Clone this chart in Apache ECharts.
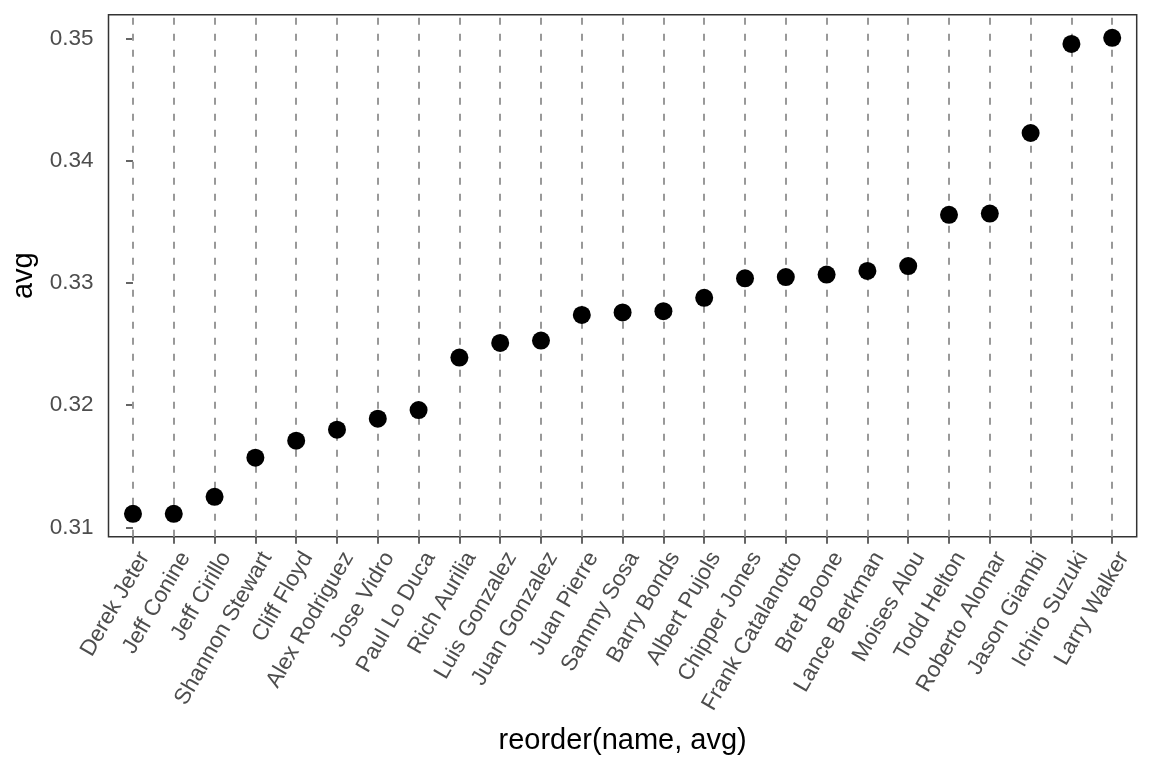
<!DOCTYPE html>
<html>
<head>
<meta charset="utf-8">
<script src="https://cdn.jsdelivr.net/npm/echarts@6/dist/echarts.min.js"></script>
<style>
html,body{margin:0;padding:0;background:#fff;}
#chart{width:1152px;height:768px;}
</style>
</head>
<body>
<div id="chart"></div>
<script>
const names = ["Derek Jeter","Jeff Conine","Jeff Cirillo","Shannon Stewart","Cliff Floyd","Alex Rodriguez","Jose Vidro","Paul Lo Duca","Rich Aurilia","Luis Gonzalez","Juan Gonzalez","Juan Pierre","Sammy Sosa","Barry Bonds","Albert Pujols","Chipper Jones","Frank Catalanotto","Bret Boone","Lance Berkman","Moises Alou","Todd Helton","Roberto Alomar","Jason Giambi","Ichiro Suzuki","Larry Walker"];
const avgValues = [0.3111,0.3111,0.3125,0.3157,0.3171,0.3180,0.3189,0.3196,0.3239,0.3251,0.3253,0.3274,0.3276,0.3277,0.3288,0.3304,0.3305,0.3307,0.3310,0.3314,0.3356,0.3357,0.3423,0.3496,0.3501];
const yTicks = [0.31,0.32,0.33,0.34,0.35];

const idx = names.map((n,i)=>i);
const pts = avgValues.map((v,i)=>[i,v]);
const font = '"Liberation Sans", Arial, sans-serif';
// rotated labels hang from their top-right corner (like hjust=1,vjust=1)
const labelShift = 0.28;
const labelPos = idx.map(i=>i+labelShift);

const chart = echarts.init(document.getElementById('chart'), null, {renderer:'canvas'});
chart.setOption({
  animation:false,
  backgroundColor:'#ffffff',
  grid:{left:108.5,right:15.3,top:14.7,bottom:231.3,show:true,borderColor:'#333333',borderWidth:1.5,backgroundColor:'transparent',outerBoundsMode:'none',containLabel:false},
  xAxis:{
    type:'value',min:-0.6,max:names.length-0.4,
    name:'reorder(name, avg)',nameLocation:'middle',nameGap:190,
    nameTextStyle:{fontFamily:font,fontSize:29,color:'#000000'},
    axisLine:{show:false},
    axisTick:{show:true,length:7,lineStyle:{color:'#333333',width:1.5},customValues:idx},
    axisLabel:{show:true,rotate:60,margin:17,fontFamily:font,fontSize:22.5,color:'#4d4d4d',customValues:labelPos,
      showMinLabel:true,showMaxLabel:true,hideOverlap:false,
      formatter:(v)=>names[Math.round(v-labelShift)]||''},
    splitLine:{show:false}
  },
  yAxis:{
    type:'value',min:0.30923,max:0.35199,
    name:'avg',nameLocation:'middle',nameGap:59,
    nameTextStyle:{fontFamily:font,fontSize:29,color:'#000000'},
    axisLine:{show:false},
    axisTick:{show:true,length:7,lineStyle:{color:'#333333',width:1.5},customValues:yTicks},
    axisLabel:{show:true,margin:15,fontFamily:font,fontSize:22.5,color:'#4d4d4d',customValues:yTicks,
      showMinLabel:true,showMaxLabel:true,
      formatter:(v)=>v.toFixed(2)},
    splitLine:{show:false}
  },
  series:[
    {type:'scatter',data:[],z:1,zlevel:0,silent:true,
     markLine:{silent:true,symbol:['none','none'],label:{show:false},animation:false,
       lineStyle:{color:'#999999',width:2,type:[7,9]},
       data:idx.map(i=>({xAxis:i}))}},
    {type:'scatter',data:pts,z:3,zlevel:1,symbol:'circle',symbolSize:18,
     itemStyle:{color:'#000000',opacity:1},emphasis:{disabled:true}}
  ]
});
</script>
</body>
</html>
